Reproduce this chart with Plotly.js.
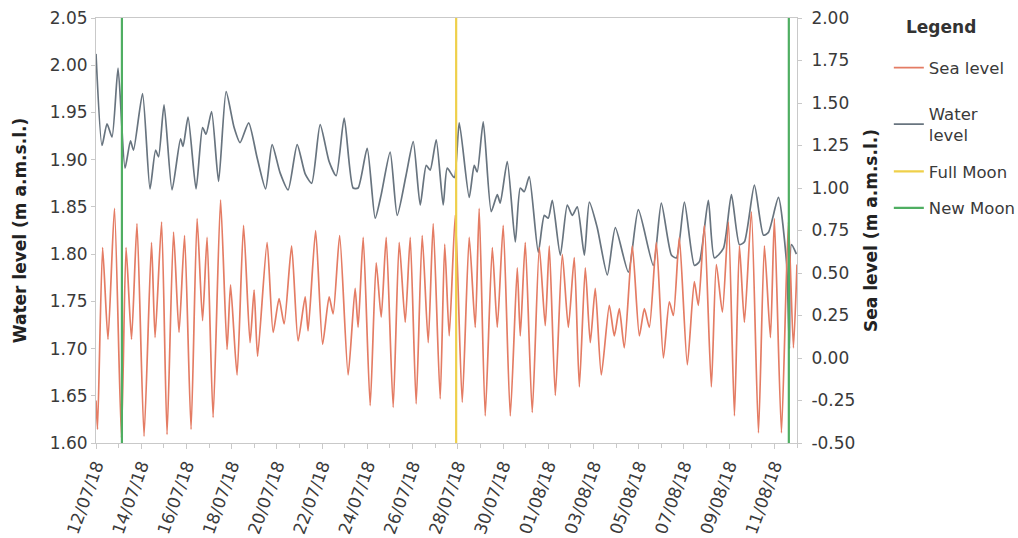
<!DOCTYPE html>
<html>
<head>
<meta charset="utf-8">
<script src="https://cdn.plot.ly/plotly-3.0.1.min.js"></script>
<style>
  html, body { margin: 0; padding: 0; background: #ffffff; }
  #chart { width: 1018px; height: 538px; }
</style>
</head>
<body>
<div id="chart"></div>
<script>
// Observation window start (12/07/18 00:00); sample times are hours from here.
const START = Date.UTC(2018, 6, 12);

// Sea level (m a.m.s.l.), turning points of the tide record
const seaHours = [0, 1.6, 7, 12.7, 19.6, 27, 31.9, 37.7, 43.5, 51, 58.9, 62.7, 69.6, 75.4, 82.3, 88.1, 94, 100.9,
  107.3, 113.1, 117.9, 124.3, 132.2, 139.1, 142.8, 149.7, 156.6, 163.5, 167.8, 171.5, 181.6, 188, 194.3, 199.7,
  207.6, 214.5, 222, 225.1, 233.1, 240.5, 247.4, 251.7, 258.6, 267.6, 275, 278.2, 283.6, 291, 297.4, 302.7,
  308, 315.4, 321.8, 328.2, 333.5, 339.8, 346.2, 352.6, 357.9, 365.3, 370.1, 374.9, 381.3, 388.7, 396.1, 402.5,
  406.7, 413.1, 420.6, 425.9, 432.2, 439.7, 447.1, 450.3, 455.6, 463, 470.5, 476.8, 481.1, 487.5, 494.9, 501.3,
  507.6, 513, 519.3, 524.6, 529.9, 536.3, 544.8, 550.1, 555.4, 560.7, 569.2, 576.7, 582, 587.3, 594.7, 602.2,
  608.5, 612.8, 619.1, 627.6, 635, 639.3, 645.7, 653.1, 658.4, 664.8, 671.2, 677.6, 682.9, 688.2, 695.6, 703.1,
  709.4, 715.8, 720, 727.5, 734.9, 740.2, 744];
const seaLevel = [-0.25, -0.42, 0.65, 0.11, 0.88, -0.47, 0.65, 0.11, 0.79, -0.46, 0.68, 0.12, 0.80, -0.45, 0.74, 0.15, 0.72, -0.42,
  0.82, 0.22, 0.71, -0.35, 0.93, 0.05, 0.43, -0.10, 0.78, 0.09, 0.40, 0.01, 0.68, 0.15, 0.35, 0.20,
  0.66, 0.10, 0.36, 0.16, 0.75, 0.08, 0.36, 0.26, 0.72, -0.10, 0.41, 0.18, 0.71, -0.28, 0.56, 0.24,
  0.71, -0.29, 0.68, 0.21, 0.71, -0.27, 0.72, 0.09, 0.79, -0.24, 0.67, 0.13, 0.84, -0.26, 0.71, 0.18,
  0.88, -0.34, 0.65, 0.18, 0.78, -0.34, 0.53, 0.13, 0.68, -0.32, 0.65, 0.19, 0.66, -0.22, 0.61, 0.18,
  0.59, -0.17, 0.53, 0.09, 0.41, -0.10, 0.31, 0.13, 0.29, 0.06, 0.66, 0.13, 0.29, 0.18, 0.68, 0.00,
  0.33, 0.25, 0.71, -0.04, 0.45, 0.31, 0.78, -0.17, 0.55, 0.27, 0.80, -0.34, 0.66, 0.21, 0.86, -0.44,
  0.66, 0.12, 0.82, -0.44, 0.80, 0.06, 0.55];

// Water level (m a.m.s.l.)
const waterHours = [0, 6.4, 11.7, 17, 23.4, 30.8, 36.6, 39.8, 49.4, 57.3, 63.2, 66.4, 72.2, 80.7, 89.7, 92.4, 97.7,
  106.2, 113.1, 116.8, 122.7, 130.1, 138.1, 146.6, 152.9, 162, 171, 180, 186.9, 195.4, 203.9, 213.5, 222, 228.9,
  237.9, 247.4, 254.9, 263.4, 272.9, 278.2, 287.8, 296.3, 302.7, 312.2, 319.7, 329.2, 336.7, 344.1, 350.5, 354.7,
  361.1, 368.5, 372.8, 380.2, 385.5, 396.1, 401.4, 404.6, 411, 419.5, 425.9, 429, 436.5, 445, 450.3, 454.5, 459.8,
  469.4, 475.8, 480, 484.3, 492.8, 500.2, 505.5, 510.8, 518.3, 523.6, 532, 542.7, 551.2, 565, 575.6, 591.5, 600,
  610.7, 616, 624.5, 635.1, 640.4, 649.9, 656.3, 665.9, 674.4, 682.9, 688.2, 698.8, 708.4, 713.7, 724.3, 732.8,
  736, 738.1, 743.4];
const waterLevel = [2.012, 1.915, 1.938, 1.924, 1.997, 1.891, 1.920, 1.910, 1.970, 1.869, 1.910, 1.903, 1.958, 1.868, 1.922, 1.914, 1.945,
  1.869, 1.934, 1.927, 1.951, 1.877, 1.972, 1.934, 1.918, 1.939, 1.902, 1.869, 1.916, 1.886, 1.868, 1.916, 1.885, 1.875,
  1.937, 1.898, 1.883, 1.944, 1.870, 1.870, 1.912, 1.838, 1.863, 1.908, 1.841, 1.884, 1.919, 1.852, 1.894, 1.889,
  1.921, 1.852, 1.891, 1.881, 1.939, 1.860, 1.894, 1.887, 1.940, 1.845, 1.863, 1.854, 1.898, 1.813, 1.870, 1.866, 1.882,
  1.802, 1.841, 1.838, 1.857, 1.799, 1.852, 1.841, 1.850, 1.799, 1.855, 1.828, 1.778, 1.828, 1.781, 1.847, 1.788, 1.854,
  1.799, 1.796, 1.855, 1.788, 1.792, 1.857, 1.796, 1.806, 1.863, 1.810, 1.813, 1.873, 1.820, 1.823, 1.860, 1.792,
  1.700, 1.810, 1.800];

// Lunar phases
const fullMoonDates = ['2018-07-27 22:15'];
const newMoonDates = ['2018-07-13 03:30', '2018-08-11 15:20'];

// Right-hand axis labels (plain hyphen for negatives)
const seaTickVals = [-0.5, -0.25, 0, 0.25, 0.5, 0.75, 1, 1.25, 1.5, 1.75, 2];
const seaTickText = ['-0.50', '-0.25', '0.00', '0.25', '0.50', '0.75', '1.00', '1.25', '1.50', '1.75', '2.00'];

const toDate = h => START + h * 3600000;
const WATER_RANGE = [1.60, 2.05];
const SEA_RANGE = [-0.5, 2.0];

// Vertical marker lines spanning the full height, separated by gaps
function verticals(dates) {
  const x = [], y = [];
  dates.forEach((d, i) => {
    if (i) { x.push(null); y.push(null); }
    x.push(d, d); y.push(SEA_RANGE[0], SEA_RANGE[1]);
  });
  return { x, y };
}

const FONT = 'DejaVu Sans, Verdana, sans-serif';
const TEXT = '#3a3a3a';
const full = verticals(fullMoonDates);
const nw = verticals(newMoonDates);

const traces = [
  {
    name: 'Water<br>level', legend: 'legend2', legendgroup: 'water', legendrank: 1,
    x: waterHours.map(toDate), y: waterLevel, yaxis: 'y',
    mode: 'lines', line: { color: '#68747f', width: 1.7, shape: 'spline', smoothing: 0.6 },
    hoverinfo: 'skip'
  },
  {
    name: 'Sea level', legend: 'legend', legendgroup: 'sea',
    x: seaHours.map(toDate), y: seaLevel, yaxis: 'y2',
    mode: 'lines', line: { color: '#e47c64', width: 1.7, shape: 'spline', smoothing: 0.6 },
    hoverinfo: 'skip'
  },
  {
    name: 'Full Moon', legend: 'legend2', legendgroup: 'full', legendrank: 2,
    x: full.x, y: full.y, yaxis: 'y2',
    mode: 'lines', line: { color: '#efd04a', width: 2.2 },
    hoverinfo: 'skip'
  },
  {
    name: 'New Moon', legend: 'legend2', legendgroup: 'new', legendrank: 3,
    x: nw.x, y: nw.y, yaxis: 'y2',
    mode: 'lines', line: { color: '#4fae62', width: 2.2 },
    hoverinfo: 'skip'
  }
];

const axisLine = '#c9c9c9';
const legendBase = {
  xanchor: 'left', yanchor: 'top',
  font: { family: FONT, size: 16.5, color: TEXT },
  itemwidth: 30, bgcolor: 'rgba(0,0,0,0)'
};

const layout = {
  width: 1018, height: 538,
  margin: { l: 96, r: 221, t: 18, b: 95, autoexpand: false },
  paper_bgcolor: '#ffffff', plot_bgcolor: '#ffffff',
  font: { family: FONT, size: 17, color: TEXT },
  showlegend: true,
  legend: Object.assign({}, legendBase, { x: 1.131, y: 0.924 }),
  legend2: Object.assign({}, legendBase, { x: 1.131, y: 0.816, tracegroupgap: 12 }),
  annotations: [{
    text: '<b>Legend</b>', xref: 'paper', yref: 'paper',
    x: 1.152, y: 0.979, xanchor: 'left', yanchor: 'middle', showarrow: false,
    font: { family: FONT, size: 17, color: '#333333' }
  }],
  xaxis: {
    type: 'date', automargin: false,
    range: ['2018-07-12 00:00', '2018-08-12 00:00'],
    tick0: '2018-07-12', dtick: 2 * 86400000,
    tickformat: '%d/%m/%y', tickangle: -70,
    tickfont: { family: FONT, size: 17, color: TEXT },
    ticks: 'outside', ticklen: 5, tickcolor: axisLine,
    minor: { dtick: 86400000, ticks: 'outside', ticklen: 4, tickcolor: axisLine },
    showgrid: false, zeroline: false,
    showline: true, linecolor: axisLine, linewidth: 1, mirror: true
  },
  yaxis: {
    range: WATER_RANGE, dtick: 0.05, tickformat: '.2f', automargin: false,
    tickfont: { family: FONT, size: 17, color: TEXT },
    ticks: 'outside', ticklen: 4, tickcolor: axisLine,
    showgrid: false, zeroline: false,
    showline: true, linecolor: axisLine, linewidth: 1,
    title: { text: '<b>Water level (m a.m.s.l.)</b>', font: { family: FONT, size: 17, color: '#222222' }, standoff: 18 }
  },
  yaxis2: {
    range: SEA_RANGE, overlaying: 'y', side: 'right', automargin: false,
    tickvals: seaTickVals, ticktext: seaTickText,
    tickfont: { family: FONT, size: 17, color: TEXT },
    ticks: 'outside', ticklen: 4, tickcolor: axisLine, ticklabelstandoff: 6,
    showgrid: false, zeroline: false,
    showline: true, linecolor: axisLine, linewidth: 1,
    title: { text: '<b>Sea level (m a.m.s.l.)</b>', font: { family: FONT, size: 17, color: '#222222' }, standoff: 10 }
  }
};

Plotly.newPlot('chart', traces, layout, { staticPlot: true, displayModeBar: false });
</script>
</body>
</html>
